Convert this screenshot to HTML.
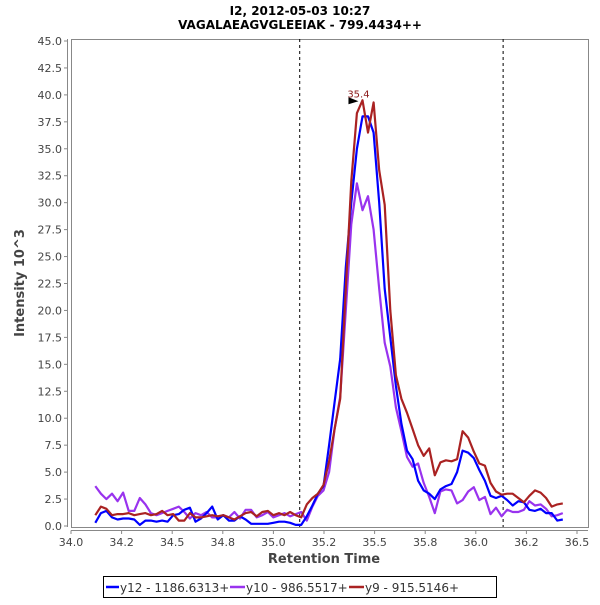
<!DOCTYPE html>
<html><head><meta charset="utf-8"><style>
body{margin:0;background:#fff;}
svg text{font-family:"DejaVu Sans","Liberation Sans",sans-serif;}
</style></head><body>
<svg id="chart" width="600" height="600" viewBox="0 0 600 600" xmlns="http://www.w3.org/2000/svg">
<rect x="0" y="0" width="600" height="600" fill="#fff"/>
<text x="300" y="15" text-anchor="middle" font-size="12" font-weight="bold" fill="#000">I2, 2012-05-03 10:27</text>
<text x="300" y="29" text-anchor="middle" font-size="12" font-weight="bold" fill="#000">VAGALAEAGVGLEEIAK - 799.4434++</text>
<g id="axes"></g>
<g id="marks"></g>
<text x="324" y="563" text-anchor="middle" font-size="13" font-weight="bold" fill="#444">Retention Time</text>
<text transform="translate(24,283) rotate(-90)" text-anchor="middle" font-size="13" font-weight="bold" fill="#444">Intensity 10^3</text>
<g>
<rect x="103.5" y="576.5" width="393" height="21" fill="#fff" stroke="#000"/>
<g><line x1="106" y1="587" x2="119" y2="587" stroke="#0000ff" stroke-width="2.5"/><text x="120" y="592" font-size="12" fill="#333">y12 - 1186.6313+</text></g>
<g><line x1="230" y1="587" x2="245" y2="587" stroke="#9933ee" stroke-width="2.5"/><text x="246" y="592" font-size="12" fill="#333">y10 - 986.5517+</text></g>
<g><line x1="349" y1="587" x2="364" y2="587" stroke="#aa2222" stroke-width="2.5"/><text x="365" y="592" font-size="12" fill="#333">y9 - 915.5146+</text></g>
</g>
</svg>
<script>
const times = [34.12,34.1475,34.175,34.2025,34.23,34.2575,34.285,34.3125,34.34,34.3675,34.395,34.4225,34.45,34.4775,34.505,34.5325,34.56,34.5875,34.615,34.6425,34.67,34.6975,34.725,34.7525,34.78,34.8075,34.835,34.8625,34.89,34.9175,34.945,34.9725,35.0,35.0275,35.055,35.0825,35.11,35.1375,35.165,35.1925,35.22,35.2475,35.275,35.3025,35.33,35.3575,35.385,35.4125,35.44,35.4675,35.495,35.5225,35.55,35.5775,35.605,35.6325,35.66,35.6875,35.715,35.7425,35.77,35.7975,35.825,35.8525,35.88,35.9075,35.935,35.9625,35.99,36.0175,36.045,36.0725,36.1,36.1275,36.155,36.1825,36.21,36.2375,36.265,36.2925,36.32,36.3475,36.375,36.4025,36.43];
const y12 = [0.3,1.2,1.4,0.8,0.6,0.7,0.7,0.6,0.1,0.5,0.5,0.4,0.5,0.4,1.0,1.1,1.5,1.7,0.4,0.7,1.2,1.8,0.6,1.0,0.5,0.5,0.9,0.6,0.2,0.2,0.2,0.2,0.3,0.4,0.4,0.3,0.1,0.1,0.9,1.9,3.0,3.7,7.5,11.5,15.5,24,30,35,38.0,38.0,36.5,30,22,17.5,13,9.5,7.0,6.2,4.2,3.3,3.0,2.5,3.4,3.7,3.9,5.0,7.0,6.8,6.3,5.2,4.2,2.8,2.6,2.8,2.4,1.9,2.3,2.2,1.5,1.4,1.6,1.2,1.2,0.5,0.6];
const y10 = [3.7,3.0,2.5,3.0,2.3,3.1,1.4,1.4,2.6,2.0,1.2,1.0,1.2,1.4,1.6,1.8,1.3,0.7,1.2,1.0,1.3,0.8,0.8,1.0,0.8,1.3,0.7,1.5,1.5,0.8,1.0,1.3,0.8,1.0,1.2,0.9,1.1,1.3,0.5,1.8,2.8,3.3,5,9,12,20,28,31.8,29.3,30.6,27.5,22,17,14.8,11,8.8,6.4,5.5,5.8,4.0,2.7,1.2,3.2,3.4,3.3,2.1,2.4,3.2,3.6,2.4,2.7,1.1,1.7,0.9,1.5,1.3,1.3,1.5,2.3,1.9,2.0,1.6,0.9,1.0,1.2];
const y9 = [1.0,1.8,1.6,1.0,1.1,1.1,1.2,1.0,1.1,1.2,1.0,1.1,1.4,1.0,1.1,0.5,0.5,1.2,0.8,0.8,0.9,1.0,0.9,1.0,0.8,0.6,0.9,1.2,1.3,0.9,1.3,1.4,1.0,1.2,1.0,1.3,1.0,0.8,2.0,2.6,3.0,3.8,6,9,11.8,22,32,38.3,39.5,36.5,39.3,33,29.8,20,14,11.8,10.5,9,7.5,6.5,7.2,4.7,5.9,6.1,6.0,6.2,8.8,8.2,6.9,5.8,5.6,4.0,3.2,2.9,3.0,3.0,2.6,2.2,2.8,3.3,3.1,2.6,1.8,2.0,2.1];
const xTicks = [34.0,34.25,34.5,34.75,35.0,35.25,35.5,35.75,36.0,36.25,36.5];
const xTickLabels = ["34.0","34.2","34.5","34.8","35.0","35.2","35.5","35.8","36.0","36.2","36.5"];
const yTicks = [0,2.5,5,7.5,10,12.5,15,17.5,20,22.5,25,27.5,30,32.5,35,37.5,40,42.5,45];
const markers = [35.13,36.135];
const peakLabel = "35.4";

const NS = "http://www.w3.org/2000/svg";
const L=71,R=588,T=39,B=527;
function xs(t){return 71+(t-34.0)*202.4;}
function ys(v){return 526-(v/45)*485;}
function mk(tag,attrs,parent){const e=document.createElementNS(NS,tag);for(const k in attrs)e.setAttribute(k,attrs[k]);parent.appendChild(e);return e;}
const axes=document.getElementById('axes'), marks=document.getElementById('marks');

const frame=mk('rect',{x:L+0.5,y:T+0.5,width:R-L,height:B-T,fill:'#fff',stroke:'#888'},axes);


const yax=mk('line',{x1:67.5,x2:67.5,y1:T,y2:B,stroke:'#888'},axes);


const xax=mk('line',{x1:L,x2:R,y1:530.5,y2:530.5,stroke:'#888'},axes);



yTicks.forEach(v=>{
  const y=ys(v);
  const tk=mk('line',{x1:64,x2:67.5,y1:y,y2:y,stroke:'#888'},axes);
  
  
  const tx=mk('text',{x:62,y:y+4,'text-anchor':'end','font-size':11,fill:'#444'},axes);
  tx.textContent=v.toFixed(1);
  
  
});
xTicks.forEach((t,i)=>{
  const x=xs(t);
  const tk=mk('line',{x1:x,x2:x,y1:530.5,y2:534,stroke:'#888'},axes);
  
  
  const tx=mk('text',{x:x,y:546,'text-anchor':'middle','font-size':11,fill:'#444'},axes);
  tx.textContent=xTickLabels[i];
  
  
});
markers.forEach(t=>{
  const ln=mk('line',{x1:xs(t),x2:xs(t),y1:T,y2:B,stroke:'#000','stroke-dasharray':'3,3'},axes);
  
  
});

function series(vals,color,name){
  const d=vals.map((v,i)=>(i?'L':'M')+xs(times[i]).toFixed(1)+','+ys(v).toFixed(1)).join(' ');
  const p=mk('path',{d:d,fill:'none',stroke:color,'stroke-width':2.2,'stroke-linejoin':'round'},marks);
  
  
}
series(y10,'#9933ee','series-y10-line');
series(y12,'#0000ff','series-y12-line');
series(y9,'#aa2222','series-y9-line');

let mi=0; y9.forEach((v,i)=>{if(v>y9[mi])mi=i;});
const px=xs(times[mi]), py=ys(y9[mi]);
const lbl=mk('text',{x:px-4,y:py-3,'text-anchor':'middle','font-size':10,fill:'#8b1a1a'},marks);
lbl.textContent=peakLabel;


const arr=mk('polygon',{points:`${px-14},${py-3} ${px-4},${py+1} ${px-14},${py+4}`,fill:'#000'},marks);


</script>
</body></html>
